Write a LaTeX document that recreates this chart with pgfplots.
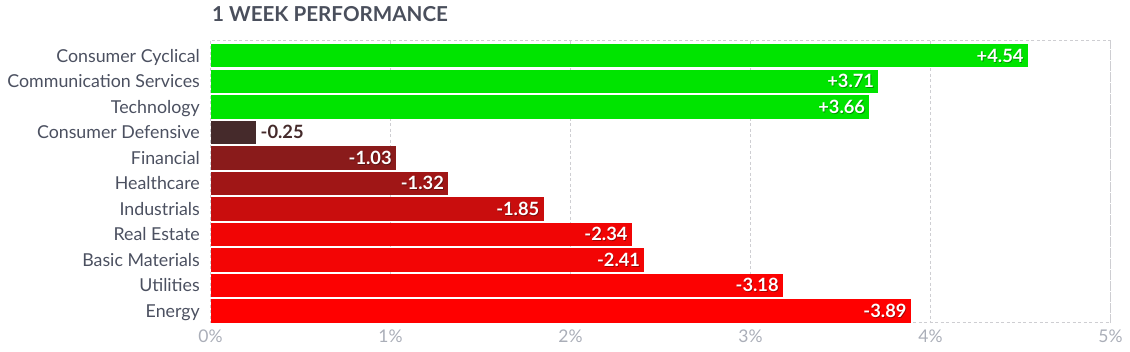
\documentclass[border=0pt]{standalone}
\usepackage{pgfplots}
\pgfplotsset{compat=1.18}
\usepackage{fontspec}
\setmainfont{Lato}
\definecolor{cgreen}{RGB}{0,228,0}
\definecolor{cdef}{RGB}{69,42,43}
\definecolor{cfin}{RGB}{138,27,27}
\definecolor{chealth}{RGB}{160,22,22}
\definecolor{cind}{RGB}{201,13,13}
\definecolor{creal}{RGB}{241,5,5}
\definecolor{cbasic}{RGB}{243,5,5}
\definecolor{cutil}{RGB}{252,2,2}
\definecolor{cenergy}{RGB}{255,0,0}
\definecolor{gridc}{RGB}{206,206,210}
\definecolor{tickc}{RGB}{75,80,96}
\definecolor{xtickc}{RGB}{170,174,184}
\definecolor{titlec}{RGB}{74,79,92}
\pgfplotstableread{
idx val label
0 4.54 +4.54
1 3.71 +3.71
2 3.66 +3.66
4 1.03 -1.03
5 1.32 -1.32
6 1.85 -1.85
7 2.34 -2.34
8 2.41 -2.41
9 3.18 -3.18
10 3.89 -3.89
}\insidelabels
\pgfplotstableread{
idx val label
3 0.25 -0.25
}\outsidelabels
\begin{document}
\begin{tikzpicture}
\begin{axis}[
 at={(210.5pt,-322.7pt)}, anchor=south west,
 scale only axis, width=900pt, height=282pt,
 xmin=0, xmax=5, ymin=-0.59, ymax=10.46, y dir=reverse,
 xbar, bar width=0.917, bar shift=0pt,
 xtick={0,1,2,3,4,5},
 xticklabel={\pgfmathprintnumber[assume math mode=true]{\tick}\%},
 ytick={0,1,2,3,4,5,6,7,8,9,10},
 yticklabels={Consumer Cyclical,Communication Services,Technology,Consumer Defensive,Financial,Healthcare,Industrials,Real Estate,Basic Materials,Utilities,Energy},
 major tick length=0pt,
 xmajorgrids,
 grid style={gridc, dash pattern=on 3pt off 2.5pt, line width=0.8pt},
 axis line style={gridc, dash pattern=on 3pt off 2.5pt, line width=0.8pt},
 yticklabel style={font=\fontsize{17.8}{20}\selectfont, anchor=base east, inner sep=0pt, xshift=-10.5pt, yshift=-6.5pt, text=tickc},
 xticklabel style={font=\fontsize{17.5}{20}\selectfont, anchor=base, inner sep=0pt, yshift=-19.5pt, text=xtickc},
 clip=false,
]
\addplot[fill=cgreen, draw=none] coordinates {(4.54,0)};
\addplot[fill=cgreen, draw=none] coordinates {(3.71,1)};
\addplot[fill=cgreen, draw=none] coordinates {(3.66,2)};
\addplot[fill=cdef, draw=none] coordinates {(0.25,3)};
\addplot[fill=cfin, draw=none] coordinates {(1.03,4)};
\addplot[fill=chealth, draw=none] coordinates {(1.32,5)};
\addplot[fill=cind, draw=none] coordinates {(1.85,6)};
\addplot[fill=creal, draw=none] coordinates {(2.34,7)};
\addplot[fill=cbasic, draw=none] coordinates {(2.41,8)};
\addplot[fill=cutil, draw=none] coordinates {(3.18,9)};
\addplot[fill=cenergy, draw=none] coordinates {(3.89,10)};
% shadow of labels
\addplot[draw=none, fill=none, nodes near coords, point meta=explicit symbolic,
 every node near coord/.style={anchor=base east, inner sep=0pt, text=black, text opacity=0.35, xshift=-3.2pt, yshift=-7.5pt, font=\bfseries\fontsize{18.3}{20}\selectfont}]
 table[x=val, y=idx, meta=label]{\insidelabels};
% labels
\addplot[draw=none, fill=none, nodes near coords, point meta=explicit symbolic,
 every node near coord/.style={anchor=base east, inner sep=0pt, text=white, xshift=-4pt, yshift=-6.5pt, font=\bfseries\fontsize{18.3}{20}\selectfont}]
 table[x=val, y=idx, meta=label]{\insidelabels};
\addplot[draw=none, fill=none, nodes near coords, point meta=explicit symbolic,
 every node near coord/.style={anchor=base west, inner sep=0pt, text=cdef, xshift=5pt, yshift=-6.5pt, font=\bfseries\fontsize{18.3}{20}\selectfont}]
 table[x=val, y=idx, meta=label]{\outsidelabels};
\end{axis}
\node[anchor=base west, inner sep=0pt, text=titlec, font=\bfseries\fontsize{20.6}{22}\selectfont] at (212pt,-21.7pt) {1 WEEK PERFORMANCE};
\pgfresetboundingbox
\useasboundingbox (0,0) rectangle (1130pt,-351pt);
\end{tikzpicture}
\end{document}
